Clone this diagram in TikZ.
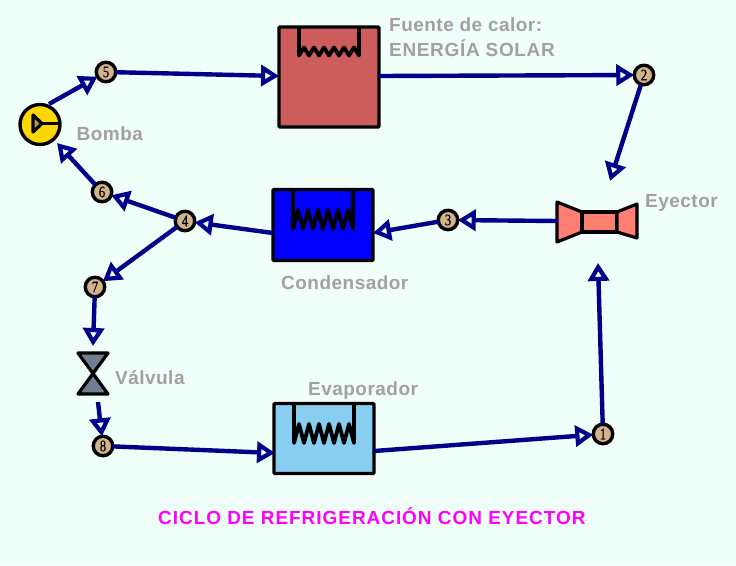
\documentclass[tikz,border=0pt]{standalone}
\usepackage{fontspec}
\usetikzlibrary{arrows.meta}
\setmainfont{Liberation Sans}
\newfontfamily\numfont[FakeStretch=0.8,FakeBold=0.6]{Liberation Serif}
\newfontfamily\labfont[LetterSpace=2.5]{Liberation Sans Bold}
\newfontfamily\labwide[LetterSpace=3.5]{Liberation Sans Bold}
\newfontfamily\titfont[LetterSpace=5]{Liberation Sans Bold}
\definecolor{bgc}{HTML}{F0FFFA}
\definecolor{navyc}{HTML}{00008B}
\definecolor{labc}{HTML}{A5A0A0}
\definecolor{tanc}{HTML}{D2B48C}
\definecolor{redc}{HTML}{CD5C5C}
\definecolor{skyc}{HTML}{87CEF0}
\definecolor{salc}{HTML}{FF8072}
\definecolor{slatec}{HTML}{708090}
\definecolor{goldc}{HTML}{FFD700}
\definecolor{magc}{HTML}{FF00FF}
\tikzset{
  x=1pt,y=-1pt,
  state/.style={circle,draw=black,line width=3.4pt,fill=tanc,inner sep=0pt,outer sep=0pt,minimum size=19.5pt,font=\numfont\fontsize{16}{16}\selectfont},
  box/.style={draw=black,line width=3.2pt,rounded corners=1pt,inner sep=0pt,outer sep=0pt,anchor=north west},
  flow/.style={draw=navyc,line width=4.4pt,-{Triangle[open,fill=bgc,length=18pt,width=21pt,line width=4.2pt]}},
  lab/.style={text=labc,font=\labfont\fontsize{19}{21}\selectfont,inner sep=0pt,anchor=west,align=left},
  part/.style={draw=black,line width=3.2pt,line join=round},
  coil/.style={draw=black,line width=3.8pt,line join=round},
}
\begin{document}
\begin{tikzpicture}
\useasboundingbox[fill=bgc] (0,0) rectangle (736,565);

% Boxes
\node[box,fill=redc,minimum width=100pt,minimum height=100pt] (src) at (279,27) {};
\node[box,fill=blue,minimum width=100pt,minimum height=71pt] (cond) at (273,189.5) {};
\node[box,fill=skyc,minimum width=100pt,minimum height=70pt] (evap) at (274,403.5) {};

% Coils
\draw[coil] (299,27) -- (299,55.5) -- (304,47.5) -- (309,55.5) -- (314,47.5) -- (319,55.5) -- (324,47.5) -- (329,55.5) -- (334,47.5) -- (339,55.5) -- (344,47.5) -- (349,55.5) -- (354,47.5) -- (359,55.5) -- (359,27);
\draw[coil] (293,189) -- (293,229) -- (298,210) -- (303,229) -- (308,210) -- (313,229) -- (318,210) -- (323,229) -- (328,210) -- (333,229) -- (338,210) -- (343,229) -- (348,210) -- (353,229) -- (353,189);
\draw[coil] (294,403) -- (294,443) -- (299,424) -- (304,443) -- (309,424) -- (314,443) -- (319,424) -- (324,443) -- (329,424) -- (334,443) -- (339,424) -- (344,443) -- (349,424) -- (354,443) -- (354,403);

% Ejector
\draw[part,fill=salc] (557,202) -- (582,212) -- (582,232) -- (557,242) -- cycle;
\draw[part,fill=salc] (582,212) rectangle (617,232);
\draw[part,fill=salc] (617,212) -- (637,204) -- (637,238) -- (617,232) -- cycle;

% Valve
\draw[part,fill=slatec] (78,353) -- (108,353) -- (78,394) -- (108,394) -- cycle;

% Pump
\node[circle,draw=black,line width=3.4pt,fill=goldc,inner sep=0pt,outer sep=0pt,minimum size=40pt] (pump) at (40,124.5) {};
\draw[part,fill=slatec!60!goldc] (33,115) -- (33,132) -- (42,123.5) -- cycle;
\draw[part,line width=3.8pt] (42,123.5) -- (pump.east |- 0,123.5);

% Free connector ends
\coordinate (pumpout) at (49,104);
\coordinate (pumpin) at (57,143);
\coordinate (srcin) at (279,76);
\coordinate (srcout) at (379,76);
\coordinate (ejin) at (598,263);
\coordinate (ejtop) at (610,181);
\coordinate (ejout) at (558,221);
\coordinate (condin) at (373,233);
\coordinate (condout) at (273,233);
\coordinate (valin) at (93,346);
\coordinate (valout) at (98,402);
\coordinate (evapin) at (275,453);
\coordinate (evapout) at (374,451);

% Connectors
\node[state] (n1) at (603,434) {1};
\node[state] (n2) at (644,75) {2};
\node[state] (n3) at (448,220) {3};
\node[state] (n4) at (185,221) {4};
\node[state] (n5) at (106,72) {5};
\node[state] (n6) at (102,192) {6};
\node[state] (n7) at (95,287) {7};
\node[state] (n8) at (103,446) {8};

\draw[flow] (pumpout) -- (n5);
\draw[flow] (n5) -- (srcin);
\draw[flow] (srcout) -- (n2);
\draw[flow] (n2) -- (ejtop);
\draw[flow] (ejout) -- (n3);
\draw[flow] (n3) -- (condin);
\draw[flow] (condout) -- (n4);
\draw[flow] (n4) -- (n6);
\draw[flow] (n6) -- (pumpin);
\draw[flow] (n4) -- (n7);
\draw[flow] (n7) -- (valin);
\draw[flow] (valout) -- (n8);
\draw[flow] (n8) -- (evapin);
\draw[flow] (evapout) -- (n1);
\draw[flow] (n1) -- (ejin);

% Labels
\node[lab] (lsrc1) at (389,25) {Fuente de calor:};
\node[lab,font=\labwide\fontsize{19}{21}\selectfont] (lsrc2) at (389,48) {ENERGÍA SOLAR};
\node[lab] (lbom) at (76.5,134) {Bomba};
\node[lab] (leye) at (645,203) {Eyector};
\node[lab] (lcon) at (281,283) {Condensador};
\node[lab] (lval) at (115,378) {Válvula};
\node[lab] (leva) at (308,391) {Evaporador};
\node[inner sep=0pt,anchor=west,text=magc,font=\titfont\fontsize{19}{21}\selectfont] (title) at (158,516.5) {CICLO DE REFRIGERACIÓN CON EYECTOR};
\end{tikzpicture}
\end{document}
